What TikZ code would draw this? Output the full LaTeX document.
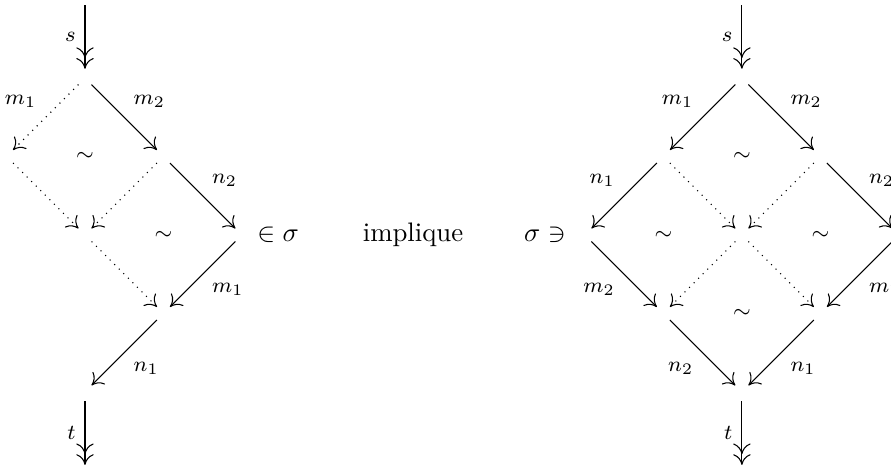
\documentclass[tikz,border=0pt]{standalone}
\usepackage{amsmath}
\usetikzlibrary{arrows.meta}
\begin{document}
\begin{tikzpicture}[
        x=1.03cm, y=1.03cm,
        >={To[length=4pt, width=6.5pt]},
        every node/.style={align=center},
        vtx/.style={circle, minimum size=6.5pt, inner sep=0pt},
        lbl/.style={font=\footnotesize},
        arr/.style={->},
        darr/.style={->, dotted},
        dblarr/.style={->>}
    ]
        \useasboundingbox (-1.083,-5.02) rectangle (10.27,0.994);

        % Left diagram
        \coordinate (ls) at (0,0.93);
        \node[vtx] (la) at (0,0) {};
        \node[vtx] (lb) at (-1,-1) {};
        \node[vtx] (lc) at (1,-1) {};
        \node[vtx] (ld) at (0,-2) {};
        \node[vtx] (le) at (2,-2) {};
        \node[vtx] (lf) at (1,-3) {};
        \node[vtx] (lg) at (0,-4) {};
        \coordinate (lt) at (0,-4.93);

        \draw[dblarr] (ls) -- node[lbl, left] {$s$} (la);
        \draw[darr] (la) -- node[lbl, above left] {$m_1$} (lb);
        \draw[arr] (la) -- node[lbl, above right] {$m_2$} (lc);
        \draw[darr] (lb) -- (ld);
        \draw[darr] (lc) -- (ld);
        \draw[arr] (lc) -- node[lbl, above right] {$n_2$} (le);
        \draw[darr] (ld) -- (lf);
        \draw[arr] (le) -- node[lbl, below right] {$m_1$} (lf);
        \draw[arr] (lf) -- node[lbl, below right] {$n_1$} (lg);
        \draw[dblarr] (lg) -- node[lbl, left] {$t$} (lt);

        \node[lbl] (lsim1) at (0,-1) {$\sim$};
        \node[lbl] (lsim2) at (1,-2) {$\sim$};

        % Middle text
        \node (inn) at (2.46,-2) {$\in \sigma$};
        \node (impl) at (4.18,-2) {implique};
        \node (ni) at (5.86,-2) {$\sigma \ni$};

        % Right diagram
        \coordinate (rs) at (8.37,0.93);
        \node[vtx] (ra) at (8.37,0) {};
        \node[vtx] (rb) at (7.37,-1) {};
        \node[vtx] (rc) at (9.37,-1) {};
        \node[vtx] (rd) at (6.37,-2) {};
        \node[vtx] (re) at (8.37,-2) {};
        \node[vtx] (rf) at (10.37,-2) {};
        \node[vtx] (rh) at (7.37,-3) {};
        \node[vtx] (ri) at (9.37,-3) {};
        \node[vtx] (rj) at (8.37,-4) {};
        \coordinate (rt) at (8.37,-4.93);

        \draw[dblarr] (rs) -- node[lbl, left] {$s$} (ra);
        \draw[arr] (ra) -- node[lbl, above left] {$m_1$} (rb);
        \draw[arr] (ra) -- node[lbl, above right] {$m_2$} (rc);
        \draw[arr] (rb) -- node[lbl, above left] {$n_1$} (rd);
        \draw[darr] (rb) -- (re);
        \draw[darr] (rc) -- (re);
        \draw[arr] (rc) -- node[lbl, above right] {$n_2$} (rf);
        \draw[arr] (rd) -- node[lbl, below left] {$m_2$} (rh);
        \draw[darr] (re) -- (rh);
        \draw[darr] (re) -- (ri);
        \draw[arr] (rf) -- node[lbl, below right] {$m_1$} (ri);
        \draw[arr] (rh) -- node[lbl, below left] {$n_2$} (rj);
        \draw[arr] (ri) -- node[lbl, below right] {$n_1$} (rj);
        \draw[dblarr] (rj) -- node[lbl, left] {$t$} (rt);

        \node[lbl] (rsim1) at (8.37,-1) {$\sim$};
        \node[lbl] (rsim2) at (7.37,-2) {$\sim$};
        \node[lbl] (rsim3) at (9.37,-2) {$\sim$};
        \node[lbl] (rsim4) at (8.37,-3) {$\sim$};
    \end{tikzpicture}
\end{document}
